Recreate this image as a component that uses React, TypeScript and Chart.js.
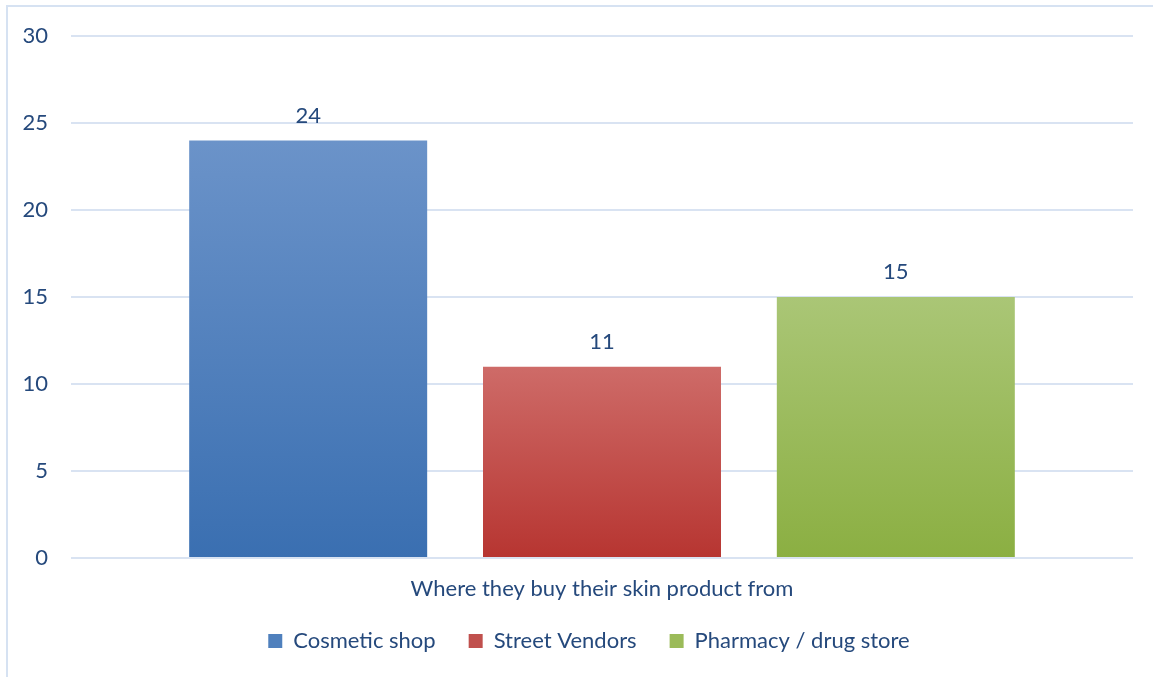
import React, { useEffect, useRef } from "react";
import { Chart, registerables } from "chart.js";

Chart.register(...registerables);

const categories = ["Where they buy their skin product from"];
const seriesNames = ["Cosmetic shop", "Street Vendors", "Pharmacy / drug store"];
const cosmeticShop = [24];
const streetVendors = [11];
const pharmacyDrugStore = [15];
const yTickStep = 5;
const yMin = 0;
const yMax = 30;

const topColors = ["#6B93C9", "#CE6B68", "#AAC676"];
const bottomColors = ["#3A6FB1", "#B73531", "#8BAF42"];
const midColors = ["#4F80BD", "#C0504D", "#9BBB59"];
const textColor = "#25497C";
const gridColor = "#D9E3F2";
const FONT = "Lato, 'Open Sans', sans-serif";
const FONT_SIZE = 22;

function gradientFor(i: number) {
  return (ctx: any) => {
    const chart = ctx.chart;
    const y = chart.scales && chart.scales.y;
    if (!chart.chartArea || !y || ctx.type !== "data") return midColors[i];
    const top = y.getPixelForValue(ctx.raw as number);
    const bottom = y.getPixelForValue(0);
    if (!isFinite(top) || !isFinite(bottom) || top === bottom) return midColors[i];
    const g = chart.ctx.createLinearGradient(0, top, 0, bottom);
    g.addColorStop(0, topColors[i]);
    g.addColorStop(1, bottomColors[i]);
    return g;
  };
}

const framePlugin = {
  id: "frame",
  afterLayout(chart: any) {
    // let the category label's descenders show below the fixed-height x axis box
    const x = chart.scales.x;
    if (x) x.bottom = x.top + 52;
  },
  beforeDraw(chart: any) {
    const c = chart.ctx;
    c.save();
    c.fillStyle = "#ffffff";
    c.fillRect(0, 0, chart.width, chart.height);
    c.fillStyle = "#D6E2F2";
    c.fillRect(6, 5, chart.width - 6, 2);
    c.fillRect(6, 5, 2, chart.height - 5);
    c.restore();
  },
};

const valueLabelPlugin = {
  id: "valueLabels",
  afterDatasetsDraw(chart: any) {
    const c = chart.ctx;
    c.save();
    c.font = `${FONT_SIZE}px ${FONT}`;
    c.fillStyle = textColor;
    c.textAlign = "center";
    c.textBaseline = "middle";
    chart.data.datasets.forEach((ds: any, di: number) => {
      const meta = chart.getDatasetMeta(di);
      meta.data.forEach((el: any, idx: number) => {
        c.fillText(String(ds.data[idx]), el.x, el.y - 25);
      });
    });
    c.restore();
  },
};

export default function App() {
  const ref = useRef<HTMLCanvasElement | null>(null);

  useEffect(() => {
    document.body.style.margin = "0";
    const canvas = ref.current;
    if (!canvas) return;
    const seriesValues = [cosmeticShop, streetVendors, pharmacyDrugStore];
    const chart = new Chart(canvas, {
      type: "bar",
      data: {
        labels: categories,
        datasets: seriesValues.map((vals, i) => ({
          label: seriesNames[i],
          data: vals,
          backgroundColor: gradientFor(i),
          borderWidth: 0,
          barPercentage: 0.81,
          categoryPercentage: 0.83,
          yAxisID: "y",
        })),
      },
      options: {
        animation: false,
        responsive: true,
        maintainAspectRatio: false,
        layout: { padding: { top: 35, right: -7, left: 18, bottom: 15 } },
        plugins: {
          tooltip: { enabled: false },
          legend: {
            position: "bottom",
            labels: {
              boxWidth: 14,
              boxHeight: 14,
              padding: 33,
              color: textColor,
              font: { family: FONT, size: FONT_SIZE },
              generateLabels: () =>
                seriesNames.map((name, i) => ({
                  text: name,
                  fillStyle: midColors[i],
                  strokeStyle: midColors[i],
                  lineWidth: 0,
                  hidden: false,
                  datasetIndex: i,
                  fontColor: textColor,
                })),
            },
          },
        },
        scales: {
          x: {
            grid: { display: false, drawTicks: false },
            border: { display: false },
            ticks: {
              color: textColor,
              font: { family: FONT, size: FONT_SIZE },
              padding: 18,
            },
            afterFit: (s: any) => {
              s.height = 39;
            },
          },
          y: {
            position: "left",
            min: yMin,
            max: yMax,
            grid: { color: gridColor, lineWidth: 2, drawTicks: false },
            border: { display: false },
            ticks: {
              stepSize: yTickStep,
              color: textColor,
              font: { family: FONT, size: FONT_SIZE },
              padding: 23,
            },
            afterFit: (s: any) => {
              s.width = 53;
            },
          },
          yRight: {
            position: "right",
            display: true,
            grid: { display: false, drawTicks: false },
            border: { display: false },
            ticks: { display: false },
            afterFit: (s: any) => {
              s.width = 27;
            },
          },
        },
      },
      plugins: [framePlugin, valueLabelPlugin],
    } as any);
    return () => chart.destroy();
  }, []);

  return (
    <div style={{ position: "fixed", left: 0, top: 0, width: 1153, height: 677 }}>
      <canvas ref={ref} />
    </div>
  );
}
